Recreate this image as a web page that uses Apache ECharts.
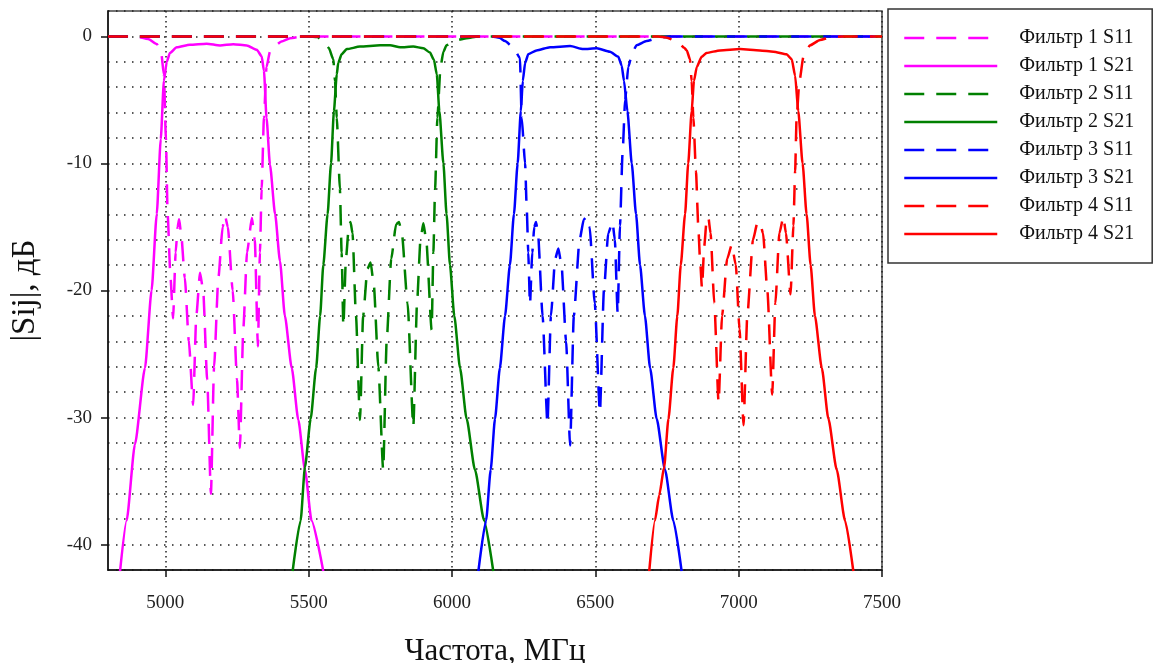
<!DOCTYPE html>
<html>
<head>
<meta charset="utf-8">
<script src="https://cdn.jsdelivr.net/npm/echarts@6/dist/echarts.min.js"></script>
<style>
html,body{margin:0;padding:0;background:#fff;overflow:hidden;}
#chart{width:1156px;height:663px;}
</style>
</head>
<body>
<div id="chart"></div>
<script>
// ---- data (frequency MHz, |Sij| dB) ----
const seriesNames = ['Фильтр 1 S11','Фильтр 1 S21','Фильтр 2 S11','Фильтр 2 S21','Фильтр 3 S11','Фильтр 3 S21','Фильтр 4 S11','Фильтр 4 S21'];
const xTicks = [5000, 5500, 6000, 6500, 7000, 7500];
const yTicks = [-40, -30, -20, -10, 0];

const filter1S11 = [[4800,0],[4900,-0.02],[4940,-0.2],[4970,-0.6],[4985,-1.2],[4995,-3],[5002,-8],[5008,-14],[5018,-19],[5027,-22.2],[5036,-17],[5043,-15],[5048,-14.4],[5055,-15.5],[5068,-19],[5082,-24],[5097,-29],[5108,-22],[5121,-18.6],[5132,-20],[5146,-27],[5159,-36],[5170,-26],[5185,-19],[5200,-15],[5208,-14.1],[5218,-15],[5235,-20],[5250,-27],[5260,-32.4],[5272,-23],[5285,-17],[5302,-14.3],[5312,-16],[5323,-24.4],[5330,-17],[5336,-12],[5344,-6.4],[5353,-2.4],[5365,-1.2],[5377,-0.85],[5405,-0.4],[5435,-0.14],[5480,0],[7500,0]];
const filter1S21 = [[4842,-42.1],[4865,-38.1],[4894,-32.1],[4929,-26.1],[4952,-20.0],[4970,-14.0],[4984,-8.1],[4995,-3.5],[5005,-2.0],[5016,-1.3],[5040,-0.85],[5086,-0.65],[5144,-0.57],[5191,-0.71],[5237,-0.62],[5284,-0.71],[5319,-1.05],[5336,-1.56],[5344,-2.7],[5353,-6.4],[5365,-10.1],[5383,-14.0],[5400,-17.7],[5417,-22.0],[5441,-26.1],[5464,-30.2],[5487,-34.1],[5510,-38.1],[5551,-42.1]];

const filter2S11 = [[4800,0],[5500,0],[5530,-0.05],[5551,-0.37],[5570,-0.9],[5586,-1.8],[5592,-3.5],[5598,-6.4],[5609,-12],[5615,-17],[5621,-22.8],[5630,-17.5],[5640,-15],[5646,-14.6],[5653,-15.5],[5665,-22],[5679,-30.2],[5690,-22],[5705,-18.3],[5716,-17.8],[5727,-19.5],[5743,-26],[5760,-34.1],[5772,-24],[5788,-17.5],[5805,-14.8],[5815,-14.6],[5825,-15.5],[5845,-21],[5865,-30.7],[5878,-21],[5890,-16],[5900,-14.7],[5910,-16],[5929,-23.1],[5935,-17],[5941,-12],[5949,-6.4],[5960,-2.4],[5970,-1.2],[5981,-0.7],[6016,-0.3],[6051,-0.14],[6090,0],[7500,0]];
const filter2S21 = [[5444,-42.1],[5472,-38.1],[5487,-33.9],[5507,-30.1],[5526,-26.1],[5540,-22.0],[5551,-18.0],[5566,-14.0],[5578,-10.0],[5588,-5.9],[5598,-3.0],[5603,-2.1],[5615,-1.4],[5633,-1.0],[5679,-0.8],[5749,-0.7],[5784,-0.7],[5819,-0.85],[5865,-0.8],[5900,-0.93],[5923,-1.27],[5937,-1.84],[5947,-3.0],[5956,-5.9],[5970,-10.0],[5981,-14.0],[5993,-18.0],[6008,-22.0],[6028,-26.1],[6051,-30.1],[6080,-34.1],[6112,-38.1],[6144,-42.1]];

const filter3S11 = [[4800,0],[6140,0],[6165,-0.1],[6185,-0.37],[6215,-0.9],[6237,-1.7],[6243,-6.4],[6255,-10],[6261,-13.7],[6266,-17],[6272,-21.1],[6280,-17],[6287,-15],[6293,-14.6],[6300,-15.5],[6316,-22],[6333,-30.5],[6345,-22],[6360,-17.5],[6371,-16.7],[6382,-18],[6398,-24],[6412,-32.2],[6425,-22],[6445,-16],[6460,-14.4],[6470,-14.2],[6480,-15],[6498,-21],[6516,-29.6],[6530,-20],[6545,-15.5],[6560,-14.6],[6568,-16],[6578,-21.8],[6586,-14.9],[6595,-9.2],[6604,-5],[6615,-2.4],[6630,-1.2],[6644,-0.7],[6679,-0.37],[6714,-0.14],[6760,0],[7500,0]];
const filter3S21 = [[6092,-42.1],[6119,-38.1],[6135,-34.1],[6150,-30.1],[6167,-26.1],[6185,-22.0],[6202,-18.0],[6216,-14.0],[6229,-10.0],[6240,-5.9],[6247,-3.5],[6255,-2.1],[6266,-1.4],[6295,-1.1],[6342,-0.85],[6412,-0.76],[6458,-1.0],[6505,-0.93],[6551,-1.2],[6580,-1.6],[6592,-2.3],[6600,-3.5],[6612,-5.9],[6627,-10.0],[6642,-14.0],[6656,-18.0],[6673,-22.0],[6691,-26.1],[6714,-30.1],[6743,-34.1],[6772,-38.1],[6801,-42.1]];

const filter4S11 = [[4800,0],[6720,0],[6750,-0.1],[6790,-0.5],[6810,-0.9],[6819,-1.1],[6830,-1.8],[6836,-3.5],[6842,-6.4],[6851,-10.6],[6859,-14.9],[6865,-17.5],[6872,-19.8],[6880,-16.5],[6888,-14.5],[6894,-14.2],[6902,-15.5],[6915,-21],[6930,-28.8],[6942,-22],[6960,-17.5],[6976,-16.4],[6990,-18],[7003,-23],[7017,-30.6],[7030,-22],[7050,-16],[7065,-14.7],[7074,-14.6],[7085,-15.5],[7100,-20],[7117,-28.2],[7128,-21],[7142,-15.5],[7156,-14.2],[7165,-15.5],[7181,-20.3],[7191,-14.9],[7197,-10.6],[7202,-6.4],[7212,-3.5],[7226,-1.6],[7249,-0.7],[7284,-0.28],[7319,-0.1],[7360,0],[7500,0]];
const filter4S21 = [[6688,-42.1],[6708,-38.1],[6723,-36.1],[6740,-33.9],[6755,-30.1],[6772,-26.1],[6786,-22.0],[6798,-18.0],[6813,-14.0],[6824,-10.0],[6836,-5.9],[6844,-3.5],[6854,-2.4],[6871,-1.6],[6888,-1.3],[6935,-1.1],[7005,-1.0],[7074,-1.1],[7121,-1.2],[7167,-1.4],[7185,-1.8],[7197,-3.1],[7208,-5.9],[7223,-10.0],[7237,-14.0],[7251,-18.0],[7266,-22.0],[7290,-26.1],[7313,-30.1],[7342,-34.1],[7371,-38.1],[7400,-42.1]];

const seriesData = [filter1S11, filter1S21, filter2S11, filter2S21, filter3S11, filter3S21, filter4S11, filter4S21];
const colors = ['#ff00ff','#ff00ff','#008000','#008000','#0000ff','#0000ff','#ff0000','#ff0000'];

const FONT = '"Liberation Serif", "DejaVu Serif", serif';
const chart = echarts.init(document.getElementById('chart'), null, {renderer: 'canvas', width: 1156, height: 663});

const series = seriesData.map((d, i) => ({
  name: seriesNames[i],
  type: 'line',
  data: d,
  symbol: 'none',
  showSymbol: false,
  smooth: 0.2,
  smoothMonotone: 'x',
  clip: true,
  animation: false,
  itemStyle: {color: colors[i]},
  lineStyle: {color: colors[i], width: 2.5, type: (i % 2 === 0) ? [20, 12] : 'solid'}
}));

chart.setOption({
  backgroundColor: '#ffffff',
  animation: false,
  grid: {left: 108, right: 274, top: 11, bottom: 93, show: true, borderColor: '#444', borderWidth: 1.5, containLabel: false, outerBoundsMode: 'none'},
  legend: {
    orient: 'vertical',
    left: 888, top: 9,
    padding: [19, 18, 19, 15],
    itemWidth: 93, itemHeight: 14, itemGap: 8,
    borderColor: '#333', borderWidth: 1.5,
    backgroundColor: '#fff',
    data: seriesNames,
    itemStyle: {opacity: 0},
    lineStyle: {width: 2.5},
    textStyle: {fontFamily: FONT, fontSize: 20, color: '#111', padding: [0, 0, 0, 17]}
  },
  xAxis: {
    type: 'value', min: 4800, max: 7500,
    name: 'Частота, МГц', nameLocation: 'middle', nameGap: 66,
    nameTextStyle: {fontFamily: FONT, fontSize: 31, color: '#111'},
    axisLine: {show: true, onZero: false, lineStyle: {color: '#111', width: 1.5}},
    axisTick: {show: true, length: 7, customValues: xTicks, lineStyle: {color: '#111', width: 1.5}},
    axisLabel: {customValues: xTicks, margin: 24, fontFamily: FONT, fontSize: 19, color: '#222', formatter: v => String(v)},
    splitLine: {show: true, lineStyle: {color: '#222', width: 1.5, type: [1.5, 3.5]}}
  },
  yAxis: [{
    type: 'value', min: -42, max: 2, interval: 2,
    name: '|Sij|, дБ', nameLocation: 'middle', nameGap: 66,
    nameTextStyle: {fontFamily: FONT, fontSize: 33, color: '#111'},
    axisLine: {show: true, onZero: false, lineStyle: {color: '#111', width: 1.5}},
    axisTick: {show: false},
    axisLabel: {margin: 16, fontFamily: FONT, fontSize: 19, color: '#222', formatter: v => (v % 10 === 0 ? String(v) : '')},
    splitLine: {show: true, lineStyle: {color: '#222', width: 1.5, type: [1.5, 6.5]}}
  }, {
    type: 'value', min: -42, max: 2, position: 'left',
    axisLine: {show: false},
    axisTick: {show: true, length: 7, customValues: yTicks, lineStyle: {color: '#111', width: 1.5}},
    axisLabel: {show: false},
    splitLine: {show: false}
  }],
  series: series
});
</script>
</body>
</html>
